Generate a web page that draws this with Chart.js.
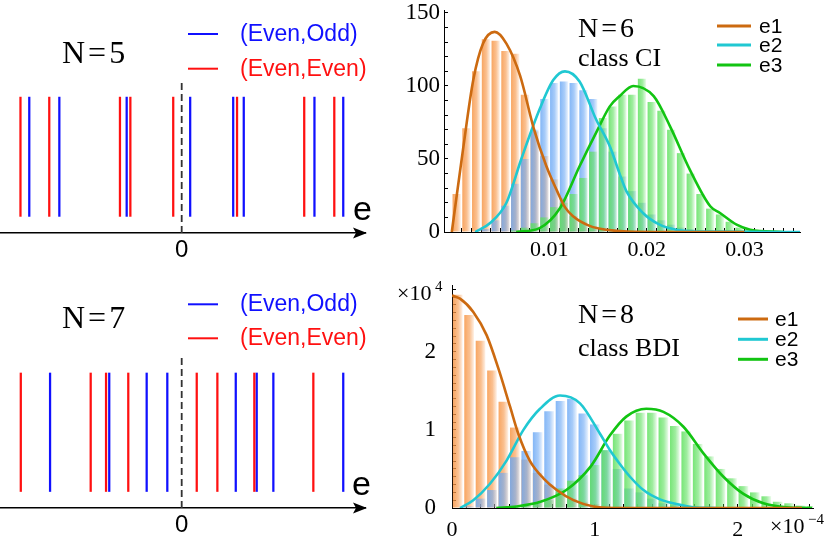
<!DOCTYPE html>
<html>
<head>
<meta charset="utf-8">
<script src="https://cdn.jsdelivr.net/npm/chart.js@4.4.0/dist/chart.umd.min.js"></script>
<style>
  body { margin: 0; background: #fff; }
  #page { position: relative; width: 830px; height: 552px; overflow: hidden; }
  canvas { position: absolute; }
</style>
</head>
<body>
<div id="page">
  <canvas id="tl" width="380" height="270" style="left:0;top:0"></canvas>
  <canvas id="tr" width="450" height="270" style="left:380px;top:0"></canvas>
  <canvas id="bl" width="380" height="276" style="left:0;top:276px"></canvas>
  <canvas id="br" width="450" height="276" style="left:380px;top:276px"></canvas>
</div>
<script>
// spectra (left panels), level positions on the e axis
var n5EvenEven = [-1.008, -0.828, -0.386, -0.321, -0.053, 0.346, 0.766, 0.954];
var n5EvenOdd = [-0.953, -0.765, -0.344, 0.053, 0.322, 0.388, 0.830, 1.010];
var n7EvenEven = [-1.006, -0.569, -0.473, -0.334, 0.094, 0.223, 0.454, 0.823];
var n7EvenOdd = [-0.823, -0.453, -0.219, -0.090, 0.338, 0.469, 0.573, 1.010];
var zeroTick = [0];

// N=6 class CI histogram
var n6Bins = [0.0005, 0.0015, 0.0025, 0.0035, 0.0045, 0.0055, 0.0065, 0.0075, 0.0085, 0.0095,
  0.0105, 0.0115, 0.0125, 0.0135, 0.0145, 0.0155, 0.0165, 0.0175, 0.0185, 0.0195,
  0.0205, 0.0215, 0.0225, 0.0235, 0.0245, 0.0255, 0.0265, 0.0275, 0.0285, 0.0295,
  0.0305, 0.0315, 0.0325, 0.0335, 0.0345, 0.0355];
var n6E1 = [26, 71, 110, 132, 131, 124, 122, 94, 69, 52, 36, 23, 11, 7, 4, 2, 1, 1, 0, 0,
  0, 0, 0, 0, 0, 0, 0, 0, 0, 0, 0, 0, 0, 0, 0, 0];
var n6E2 = [0, 0, 0, 2, 8, 18, 33, 50, 70, 91, 102, 103, 102, 97, 91, 71, 55, 38, 28, 20,
  12, 8, 5, 3, 2, 1, 1, 1, 1, 0.5, 0.5, 0.5, 0.5, 0.5, 0.5, 0.5];
var n6E3 = [0, 0, 0, 0, 0, 0, 1, 3, 6, 10, 17, 20, 26, 37, 55, 78, 86, 94, 94, 105,
  89, 83, 70, 54, 40, 26, 16, 12, 7, 3, 1.5, 1, 0.5, 0.3, 0, 0];
var n6FitE1 = [[0, 0], [0.0012, 59], [0.0022, 104], [0.0032, 129], [0.0044, 137], [0.0056, 129],
  [0.007, 107], [0.0084, 71], [0.0097, 45], [0.0108, 28], [0.0116, 17], [0.0124, 11],
  [0.0142, 4], [0.0159, 1.5], [0.018, 0.3], [0.022, 0], [0.03, 0]];
var n6FitE2 = [[0.0024, 0], [0.0039, 6], [0.0056, 20], [0.0071, 49.5], [0.009, 84], [0.0104, 104],
  [0.0116, 110], [0.0131, 103], [0.0148, 77], [0.0162, 58.7], [0.0172, 40], [0.0179, 28],
  [0.0196, 13], [0.0213, 5], [0.023, 1.6], [0.026, 0.3], [0.0357, 0]];
var n6FitE3 = [[0.0066, 0], [0.009, 2.7], [0.0111, 16.4], [0.0131, 45], [0.0148, 68], [0.0162, 86],
  [0.0172, 93], [0.0186, 100], [0.0207, 93], [0.0224, 72], [0.0244, 42.7], [0.0265, 17.6],
  [0.0275, 13], [0.0292, 5], [0.0306, 1.6], [0.034, 0]];

// N=8 class BDI histogram (x in 1e-4, y in 1e4)
var n8Bins = [0.04, 0.12, 0.20, 0.28, 0.36, 0.44, 0.52, 0.60, 0.68, 0.76, 0.84, 0.92, 1.00, 1.08,
  1.16, 1.24, 1.32, 1.40, 1.48, 1.56, 1.64, 1.72, 1.80, 1.88, 1.96, 2.04, 2.12, 2.20, 2.28,
  2.36, 2.44, 2.52];
var n8E1 = [2.73, 2.47, 2.14, 1.76, 1.36, 1.03, 0.62, 0.45, 0.3, 0.2, 0.12, 0.08, 0.05, 0.03,
  0.02, 0.01, 0.01, 0.01, 0, 0, 0, 0, 0, 0, 0, 0, 0, 0, 0, 0, 0, 0];
var n8E2 = [0, 0.02, 0.12, 0.23, 0.45, 0.65, 0.73, 0.97, 1.24, 1.37, 1.40, 1.21, 1.07, 0.74,
  0.5, 0.25, 0.2, 0.12, 0.06, 0.04, 0.02, 0.01, 0.01, 0, 0, 0, 0, 0, 0, 0, 0, 0];
var n8E3 = [0, 0, 0, 0, 0.005, 0.01, 0.03, 0.06, 0.1, 0.25, 0.35, 0.42, 0.55, 0.74, 0.95, 1.12,
  1.22, 1.22, 1.16, 1.05, 0.98, 0.82, 0.66, 0.5, 0.38, 0.28, 0.2, 0.15, 0.08, 0.06, 0.03, 0.02];
var n8FitE1 = [[0, 2.72], [0.056, 2.68], [0.149, 2.51], [0.243, 2.21], [0.324, 1.79], [0.406, 1.30],
  [0.464, 0.95], [0.546, 0.60], [0.64, 0.38], [0.733, 0.23], [0.85, 0.10], [0.99, 0.02],
  [1.2, 0], [2.45, 0]];
var n8FitE2 = [[0.056, 0], [0.149, 0.1], [0.266, 0.31], [0.383, 0.61], [0.5, 1.0], [0.616, 1.27],
  [0.756, 1.44], [0.896, 1.34], [1.036, 0.95], [1.106, 0.74], [1.176, 0.56], [1.246, 0.40],
  [1.34, 0.23], [1.456, 0.11], [1.57, 0.05], [1.69, 0.01], [1.85, 0]];
var n8FitE3 = [[0.31, 0], [0.45, 0.02], [0.62, 0.08], [0.8, 0.23], [0.97, 0.53], [1.106, 0.93],
  [1.22, 1.17], [1.36, 1.27], [1.48, 1.23], [1.62, 1.04], [1.76, 0.70], [1.9, 0.40],
  [2.04, 0.18], [2.18, 0.06], [2.34, 0.01], [2.52, 0]];

var seriesNames = ['e1', 'e2', 'e3'];
var fitColors = ['#cc6a10', '#20c8d2', '#12c412'];
var barRGB = ['247,150,70', '110,170,245', '95,225,95'];

Chart.defaults.font.family = '"Liberation Serif", serif';
Chart.defaults.color = '#000';

var SERIF = '"Liberation Serif", serif';
var SANS = '"Liberation Sans", Arial, sans-serif';

// draws free text and legend strokes onto a chart
function notes(items) {
    return {
        id: 'notes',
        afterDraw: function (chart) {
            var ctx = chart.ctx;
            ctx.save();
            items.forEach(function (it) {
                if (it.line) {
                    ctx.strokeStyle = it.color;
                    ctx.lineWidth = it.w || 2;
                    ctx.beginPath();
                    ctx.moveTo(it.line[0], it.line[2]);
                    ctx.lineTo(it.line[1], it.line[2]);
                    ctx.stroke();
                } else {
                    ctx.font = it.font;
                    ctx.fillStyle = it.color || '#000';
                    ctx.textAlign = 'left';
                    ctx.textBaseline = it.base || 'alphabetic';
                    ctx.letterSpacing = it.ls || '0px';
                    ctx.fillText(it.t, it.x, it.y);
                }
            });
            ctx.restore();
        }
    };
}

var arrowHead = {
    id: 'arrowHead',
    afterDraw: function (chart) {
        var a = chart.chartArea, ctx = chart.ctx;
        var y = a.bottom;
        ctx.save();
        ctx.fillStyle = '#000';
        ctx.beginPath();
        ctx.moveTo(a.right + 2, y);
        ctx.lineTo(a.right - 12, y - 5.5);
        ctx.lineTo(a.right - 9, y);
        ctx.lineTo(a.right - 12, y + 5.5);
        ctx.closePath();
        ctx.fill();
        ctx.restore();
    }
};

function spectrum(id, evenEven, evenOdd, axisHeight, items) {
    var mk = function (arr) {
        return arr.map(function (e) { return { x: e, y: [0.11, 0.9] }; });
    };
    new Chart(document.getElementById(id), {
        type: 'bar',
        data: {
            datasets: [{
                data: mk(evenEven), backgroundColor: '#ff1010', barThickness: 1.6, grouped: false
            }, {
                data: mk(evenOdd), backgroundColor: '#1010ff', barThickness: 1.6, grouped: false
            }, {
                type: 'line', data: [{ x: 0, y: 0 }, { x: 0, y: 1 }],
                borderColor: '#333', borderWidth: 1.8, borderDash: [7, 4], pointRadius: 0
            }]
        },
        options: {
            responsive: false, animation: false, events: [],
            layout: { padding: { left: 0, right: 15, top: 82, bottom: 0 } },
            plugins: { legend: { display: false }, tooltip: { enabled: false } },
            scales: {
                x: {
                    type: 'linear', min: -1.136, max: 1.146, offset: false,
                    grid: { display: false, drawTicks: false, offset: false },
                    border: { display: true, color: '#000', width: 1.5 },
                    afterBuildTicks: function (s) {
                        s.ticks = zeroTick.map(function (v) { return { value: v }; });
                    },
                    ticks: { padding: 3, maxRotation: 0, font: { family: SANS, size: 24 } },
                    afterFit: function (s) {
                        s.height = axisHeight; s.paddingLeft = 0; s.paddingRight = 0;
                    }
                },
                y: { display: false, min: 0, max: 1 }
            }
        },
        plugins: [arrowHead, notes(items)]
    });
}

function histogram(id, cfg) {
    var datasets = [];
    [cfg.e1, cfg.e2, cfg.e3].forEach(function (counts, k) {
        datasets.push({
            data: cfg.bins.map(function (c, i) { return { x: c, y: counts[i] }; }),
            grouped: false, order: 4 - k, borderWidth: 0,
            categoryPercentage: 1, barPercentage: 0.85,
            backgroundColor: function (c) {
                var xs = c.chart.scales.x;
                if (c.type !== 'data' || !xs || !c.chart.chartArea) return 'rgba(' + barRGB[k] + ',0.5)';
                var x0 = xs.getPixelForValue(c.raw.x - cfg.binWidth * 0.43);
                var x1 = xs.getPixelForValue(c.raw.x + cfg.binWidth * 0.43);
                var g = c.chart.ctx.createLinearGradient(x0, 0, x1, 0);
                g.addColorStop(0, 'rgba(' + barRGB[k] + ',0.85)');
                g.addColorStop(0.55, 'rgba(' + barRGB[k] + ',0.6)');
                g.addColorStop(1, 'rgba(' + barRGB[k] + ',0.12)');
                return g;
            }
        });
    });
    [cfg.fit1, cfg.fit2, cfg.fit3].forEach(function (pts, k) {
        datasets.push({
            type: 'line', label: seriesNames[k], order: 0,
            data: pts.map(function (p) { return { x: p[0], y: p[1] }; }),
            borderColor: fitColors[k], borderWidth: 2.6, pointRadius: 0,
            cubicInterpolationMode: 'monotone', fill: false
        });
    });
    new Chart(document.getElementById(id), {
        type: 'bar',
        data: { datasets: datasets },
        options: {
            responsive: false, animation: false, events: [],
            layout: { padding: cfg.padding },
            plugins: { legend: { display: false }, tooltip: { enabled: false } },
            scales: {
                x: {
                    type: 'linear', min: cfg.xMin, max: cfg.xMax, offset: false,
                    grid: { drawOnChartArea: false, offset: false, tickLength: -4, tickColor: '#000' },
                    border: { display: true, color: '#000', width: 1 },
                    ticks: {
                        stepSize: cfg.xStep, includeBounds: false, autoSkip: false, maxRotation: 0,
                        padding: cfg.xPad, font: { family: SERIF, size: 22 }, callback: cfg.xLabel
                    },
                    afterFit: function (s) {
                        s.height = cfg.xHeight; s.paddingLeft = 0; s.paddingRight = 0;
                    }
                },
                y: {
                    min: 0, max: cfg.yMax,
                    grid: { drawOnChartArea: false, tickLength: -4, tickColor: '#000' },
                    border: { display: true, color: '#000', width: 1 },
                    ticks: {
                        stepSize: cfg.yStep, includeBounds: false, autoSkip: false,
                        padding: cfg.yPad, font: { family: SERIF, size: 23 }, callback: cfg.yLabel
                    },
                    afterFit: function (s) {
                        s.width = cfg.yWidth; s.paddingTop = 0; s.paddingBottom = 0;
                    }
                }
            }
        },
        plugins: [notes(cfg.items)]
    });
}

function legendItems(x1, x2, xt, ys) {
    var out = [];
    ys.forEach(function (y, k) {
        out.push({ line: [x1, x2, y], color: fitColors[k], w: 3 });
        out.push({ t: seriesNames[k], x: xt, y: y + 1, base: 'middle', font: '21px ' + SANS });
    });
    return out;
}

spectrum('tl', n5EvenEven, n5EvenOdd, 37, [
    { t: 'N=5', x: 62, y: 63, font: '32px ' + SERIF, ls: '3px' },
    { line: [188, 218, 34], color: '#1010ff', w: 2 },
    { t: '(Even,Odd)', x: 240, y: 35, base: 'middle', color: '#1010ff', font: '23px ' + SANS },
    { line: [188, 218, 68.7], color: '#ff1010', w: 2 },
    { t: '(Even,Even)', x: 240, y: 69.5, base: 'middle', color: '#ff1010', font: '23px ' + SANS },
    { t: 'e', x: 353, y: 220, font: '34px ' + SANS }
]);

spectrum('bl', n7EvenEven, n7EvenOdd, 44, [
    { t: 'N=7', x: 62, y: 52, font: '32px ' + SERIF, ls: '3px' },
    { line: [188, 218, 28.3], color: '#1010ff', w: 2 },
    { t: '(Even,Odd)', x: 240, y: 29, base: 'middle', color: '#1010ff', font: '23px ' + SANS },
    { line: [188, 218, 62.3], color: '#ff1010', w: 2 },
    { t: '(Even,Even)', x: 240, y: 63, base: 'middle', color: '#ff1010', font: '23px ' + SANS },
    { t: 'e', x: 352, y: 219, font: '34px ' + SANS }
]);

histogram('tr', {
    bins: n6Bins, binWidth: 0.001, e1: n6E1, e2: n6E2, e3: n6E3,
    fit1: n6FitE1, fit2: n6FitE2, fit3: n6FitE3,
    padding: { left: 0, top: 10, right: 30, bottom: 0 },
    xMin: -0.0008, xMax: 0.0357, xStep: 0.001, xPad: 9, xHeight: 38,
    xLabel: function (v) {
        var k = Math.round(v * 1000);
        return (k > 0 && k % 10 === 0) ? (k / 1000).toFixed(2) : '';
    },
    yMax: 152, yStep: 10, yPad: 8, yWidth: 64,
    yLabel: function (v) {
        var k = Math.round(v);
        return k % 50 === 0 ? String(k) : '';
    },
    items: [
        { t: 'N=6', x: 198, y: 37, font: '28px ' + SERIF, ls: '3px' },
        { t: 'class CI', x: 198, y: 66, font: '26px ' + SERIF }
    ].concat(legendItems(337, 371, 379, [26, 45, 65]))
});

histogram('br', {
    bins: n8Bins, binWidth: 0.08, e1: n8E1, e2: n8E2, e3: n8E3,
    fit1: n8FitE1, fit2: n8FitE2, fit3: n8FitE3,
    padding: { left: 0, top: 9, right: 17, bottom: 0 },
    xMin: 0, xMax: 2.527, xStep: 0.1, xPad: 13, xHeight: 44,
    xLabel: function (v) {
        var k = Math.round(v * 10);
        return k % 10 === 0 ? String(k / 10) : '';
    },
    yMax: 2.855, yStep: 0.1, yPad: 20, yWidth: 72,
    yLabel: function (v) {
        var k = Math.round(v * 10);
        return k % 10 === 0 ? String(k / 10) : '';
    },
    items: [
        { t: 'N=8', x: 198, y: 47, font: '28px ' + SERIF, ls: '3px' },
        { t: 'class BDI', x: 198, y: 80, font: '26px ' + SERIF },
        { t: '\u00d710', x: 17, y: 24, font: '22px ' + SERIF },
        { t: '4', x: 55, y: 15, font: '15px ' + SERIF },
        { t: '\u00d710', x: 390, y: 257, font: '22px ' + SERIF },
        { t: '\u22124', x: 428, y: 248, font: '15px ' + SERIF }
    ].concat(legendItems(358, 388, 395, [43, 63.3, 83.3]))
});
</script>
</body>
</html>
